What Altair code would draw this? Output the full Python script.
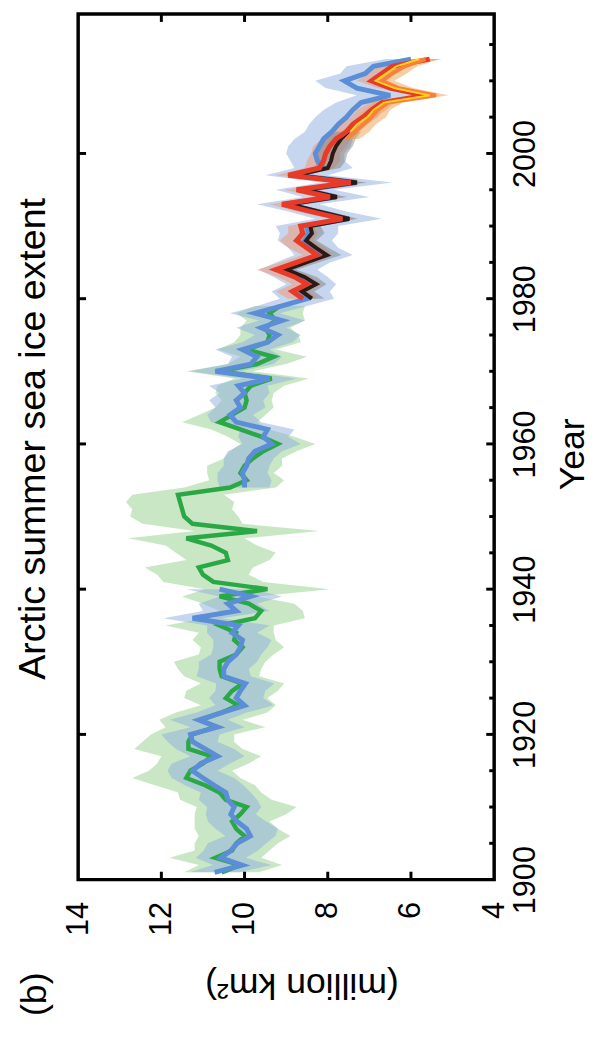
import altair as alt
import pandas as pd

title_text = "Arctic summer sea ice extent"
panel_label = "(b)"
x_title = "(million km²)"
y_title = "Year"

value_ticks = [4, 6, 8, 10, 12, 14]
inner_value_ticks = [6, 8, 10, 12]
year_ticks = [1900, 1920, 1940, 1960, 1980, 2000]
major_year_ticks = [1920, 1940, 1960, 1980, 2000]
minor_year_ticks = [1905, 1910, 1915, 1925, 1930, 1935, 1945, 1950, 1955,
                    1965, 1970, 1975, 1985, 1990, 1995, 2005, 2010, 2015]

# green series (1901-1979)
green_years = list(range(1901, 1980))
green_vals = [10.55, 10.1, 10.7, 10.3, 10.2, 10.0, 10.2, 10.3, 10.1, 9.95,
              10.45, 10.6, 10.95, 11.4, 11.3, 11.0, 10.8, 11.35, 11.35, 11.25,
              10.7, 11.05, 10.55, 10.15, 10.45, 10.3, 10.05, 10.55, 10.6, 10.6,
              10.2, 10.05, 10.25, 10.2, 10.6, 9.75, 9.6, 9.9, 10.6, 9.45,
              10.75, 11.0, 11.1, 10.4, 10.45, 10.8, 11.4, 9.7, 11.25, 11.45,
              11.5, 11.55, 11.6, 10.35, 9.95, 10.1, 10.0, 9.8, 9.55, 9.2,
              9.6, 10.1, 10.6, 10.3, 10.0, 9.95, 10.0, 9.85, 9.35, 10.6,
              9.7, 9.3, 9.95, 9.45, 9.4, 9.5, 9.25, 9.4, 9.15]
green_hw = [0.9, 1.0, 1.1, 0.9, 1.0, 1.1, 1.0, 0.9, 1.1, 1.2,
            1.1, 1.0, 1.2, 1.3, 1.0, 1.1, 1.2, 1.3, 1.1, 1.0,
            1.2, 1.0, 1.1, 0.9, 1.0, 1.1, 1.0, 0.9, 1.0, 1.1,
            0.9, 1.0, 1.0, 0.9, 1.3, 1.2, 1.0, 1.1, 0.9, 1.5,
            1.2, 1.1, 1.3, 1.0, 1.2, 1.1, 1.4, 1.5, 1.2, 1.3,
            1.2, 1.3, 1.1, 1.1, 0.9, 0.8, 0.9, 0.7, 0.8, 0.9,
            0.8, 0.7, 0.9, 0.8, 0.7, 0.6, 0.7, 0.8, 0.9, 0.8,
            0.7, 0.8, 0.7, 0.8, 0.7, 0.6, 0.7, 0.8, 0.6]

# blue series (1901-1940, 1954-2013)
blue_years = list(range(1901, 1941)) + list(range(1954, 2014))
blue_seg = [1] * 40 + [2] * 60
blue_vals = [10.72, 10.06, 10.57, 10.33, 10.18, 9.86, 9.95, 10.18, 10.33, 10.25,
             10.4, 10.45, 10.73, 11.0, 11.25, 11.05, 10.65, 10.95, 11.25, 11.3,
             10.65, 11.1, 10.55, 10.0, 10.2, 10.1, 9.98, 10.5, 10.5, 10.4,
             10.2, 10.1, 10.05, 10.3, 10.15, 11.25, 10.2, 10.4, 9.85, 10.6,
             10.0, 10.0, 10.05, 9.95, 9.9, 9.75, 9.35, 9.55, 9.45, 10.2,
             10.35, 10.1, 10.2, 10.0, 10.15, 9.4, 10.7, 9.85, 9.7, 10.05,
             9.45, 9.2, 9.6, 9.1, 9.75, 9.1,
             8.5, 8.65, 8.4, 8.65, 8.95, 8.6, 8.1, 8.35, 8.55, 8.45,
             8.5, 7.5, 8.25, 8.95, 7.8, 8.55, 7.3, 8.75, 8.1, 8.25,
             8.3, 8.2, 8.1, 7.9, 7.75, 7.55, 7.4, 7.2, 6.5, 7.3,
             7.6, 7.1, 6.9, 6.0]
blue_hw = [0.6, 0.7, 0.6, 0.65, 0.7, 0.6, 0.75, 0.7, 0.6, 0.65,
           0.7, 0.6, 0.7, 0.75, 0.6, 0.7, 0.65, 0.7, 0.6, 0.7,
           0.65, 0.7, 0.6, 0.7, 0.65, 0.6, 0.7, 0.65, 0.6, 0.7,
           0.6, 0.65, 0.7, 0.6, 0.75, 0.7, 0.8, 0.7, 0.75, 0.8,
           0.6, 0.65, 0.6, 0.55, 0.6, 0.65, 0.7, 0.6, 0.65, 0.6,
           0.55, 0.6, 0.65, 0.6, 0.7, 0.65, 0.6, 0.55, 0.6, 0.65,
           0.6, 0.55, 0.6, 0.55, 0.6, 0.6,
           0.65, 0.7, 0.6, 0.65, 0.7, 0.65, 0.7, 0.6, 0.65, 0.7,
           0.75, 0.8, 0.7, 0.75, 0.8, 0.7, 0.85, 0.75, 0.7, 0.65,
           0.7, 0.75, 0.7, 0.65, 0.7, 0.75, 0.7, 0.6, 0.8, 0.75,
           0.7, 0.6, 0.65, 0.6]

# black series (1980-2003)
black_years = list(range(1980, 2004))
black_vals = [8.38, 8.62, 8.28, 8.56, 9.0, 8.52, 8.02, 8.28, 8.52, 8.38,
              8.42, 7.48, 8.2, 8.92, 7.78, 8.56, 7.3, 8.78, 8.0, 7.92,
              7.88, 7.8, 7.68, 7.5]
black_hw = [0.3, 0.3, 0.25, 0.3, 0.25, 0.3, 0.35, 0.3, 0.25, 0.3,
            0.25, 0.2, 0.25, 0.2, 0.25, 0.2, 0.25, 0.2, 0.3, 0.35,
            0.35, 0.4, 0.35, 0.3]

# red series (1980-2013)
red_years = list(range(1980, 2014))
red_vals = [8.6, 8.85, 8.5, 8.8, 9.25, 8.75, 8.25, 8.5, 8.75, 8.6,
            8.65, 7.65, 8.4, 9.1, 7.95, 8.75, 7.45, 8.95, 8.2, 8.1,
            8.05, 7.95, 7.8, 7.55, 7.4, 7.15, 6.95, 6.7, 5.65, 6.5,
            6.95, 6.7, 6.45, 5.55]
red_hw = [0.35, 0.4, 0.35, 0.4, 0.45, 0.4, 0.35, 0.45, 0.4, 0.35,
          0.3, 0.3, 0.35, 0.3, 0.35, 0.3, 0.35, 0.3, 0.35, 0.4,
          0.35, 0.4, 0.35, 0.3, 0.35, 0.3, 0.35, 0.3, 0.35, 0.3,
          0.35, 0.3, 0.35, 0.3]

# orange series (2002-2013)
orange_years = list(range(2002, 2014))
orange_vals = [7.55, 7.35, 7.15, 6.95, 6.8, 6.55, 5.4, 6.3, 6.7, 6.45, 6.15, 5.65]
orange_hw = [0.3, 0.35, 0.3, 0.35, 0.3, 0.35, 0.3, 0.35, 0.3, 0.35, 0.3, 0.35]

# yellow series (2003-2013)
yellow_years = list(range(2003, 2014))
yellow_vals = [7.45, 7.3, 7.05, 6.9, 6.65, 5.55, 6.4, 6.85, 6.6, 6.35, 5.8]

W, H = 421, 876
FONT = "Liberation Sans"

XS = alt.Scale(domain=[4, 14], reverse=True, nice=False, zero=False)
YS = alt.Scale(domain=[1900, 2019.2], nice=False, zero=False)
XA = alt.Axis(values=value_ticks, format="d", labelAngle=270, labelAlign="right",
              labelBaseline="middle", labelPadding=22, ticks=False, domain=False,
              grid=False, labelFlush=False, labelOverlap=False, labelFont=FONT,
              labelFontSize=31, labelColor="black", titleFont=FONT, titleFontSize=36,
              titleFontWeight="normal", titleColor="black", titleAngle=180,
              titleAlign="center", titleBaseline="middle", titleX=226, titleY=106)
YA = alt.Axis(orient="right", values=year_ticks, format="d", labelAngle=270,
              labelAlign="center", labelBaseline="top", labelPadding=17,
              ticks=False, domain=False, grid=False, labelFlush=False,
              labelOverlap=False, labelFont=FONT, labelFontSize=31,
              labelColor="black", titleFont=FONT, titleFontSize=36,
              titleFontWeight="normal", titleColor="black", titleAngle=270,
              titleAlign="center", titleBaseline="middle", titleX=79, titleY=445)


def xenc(field):
    return alt.X(f"{field}:Q", scale=XS, axis=XA, title=x_title)


def yenc(field):
    return alt.Y(f"{field}:Q", scale=YS, axis=YA, title=y_title)


def frame(years, vals, hw=None, seg=None):
    d = {"year": years, "v": vals}
    if hw is not None:
        d["lo"] = [a - b for a, b in zip(vals, hw)]
        d["hi"] = [a + b for a, b in zip(vals, hw)]
    d["seg"] = seg if seg is not None else [1] * len(years)
    return pd.DataFrame(d)


green = frame(green_years, green_vals, green_hw)
blue = frame(blue_years, blue_vals, blue_hw, blue_seg)
black = frame(black_years, black_vals, black_hw)
red = frame(red_years, red_vals, red_hw)
orange = frame(orange_years, orange_vals, orange_hw)
yellow = frame(yellow_years, yellow_vals)


def band(df, color, opacity):
    parts = []
    for s in sorted(df["seg"].unique()):
        sub = df[df["seg"] == s].sort_values("year")
        parts.append(
            alt.Chart(sub).mark_area(orient="horizontal", fill=color, fillOpacity=opacity,
                                     stroke=None).encode(
                y=yenc("year"), x=xenc("lo"), x2=alt.X2("hi:Q")))
    return parts


def line(df, color, width):
    return alt.Chart(df).mark_line(color=color, strokeWidth=width,
                                   strokeJoin="miter", strokeCap="butt").encode(
        x=xenc("v"), y=yenc("year"), detail="seg:N", order=alt.Order("year:Q"))


layers = []
layers += band(green, "#93d08b", 0.5)
layers += band(blue, "#8eaee0", 0.5)
layers += band(red, "#ee9a78", 0.55)
layers += band(black, "#7a7a7a", 0.45)
layers += band(orange, "#f0a050", 0.5)
layers += [
    line(green, "#2aa845", 4.5),
    line(blue, "#5b8ed6", 5),
    line(black, "#2b1a14", 4),
    line(red, "#e83a28", 5),
    line(orange, "#f7813a", 4),
    line(yellow, "#ffd21a", 2),
]

vt = pd.DataFrame({"t": inner_value_ticks})
mj = pd.DataFrame({"t": major_year_ticks})
mn = pd.DataFrame({"t": minor_year_ticks})
tick_style = dict(color="black", strokeWidth=3)
layers += [
    alt.Chart(vt).mark_rule(**tick_style).encode(x=xenc("t"), y=alt.value(H), y2=alt.value(H - 8)),
    alt.Chart(vt).mark_rule(**tick_style).encode(x=xenc("t"), y=alt.value(0), y2=alt.value(8)),
    alt.Chart(mj).mark_rule(**tick_style).encode(y=yenc("t"), x=alt.value(W), x2=alt.value(W - 8)),
    alt.Chart(mj).mark_rule(**tick_style).encode(y=yenc("t"), x=alt.value(0), x2=alt.value(8)),
    alt.Chart(mn).mark_rule(**tick_style).encode(y=yenc("t"), x=alt.value(W), x2=alt.value(W - 5)),
]

ttl = pd.DataFrame({"t": [title_text]})
pl = pd.DataFrame({"t": [panel_label]})
layers += [
    alt.Chart(ttl).mark_text(angle=270, font=FONT, fontSize=38, color="black",
                             align="center", baseline="alphabetic").encode(
        text="t:N", x=alt.value(-34), y=alt.value(430)),
    alt.Chart(pl).mark_text(angle=270, font=FONT, fontSize=36, color="black",
                            align="center", baseline="middle").encode(
        text="t:N", x=alt.value(-44), y=alt.value(992)),
]

chart = alt.layer(*layers).properties(
    width=W, height=H,
    autosize=alt.AutoSizeParams(type="none"),
    padding={"left": 71, "top": 0, "right": 98, "bottom": 140},
).configure_view(stroke="black", strokeWidth=3.5)

chart.save("out.html", embed_options={"renderer": "svg", "actions": False})
